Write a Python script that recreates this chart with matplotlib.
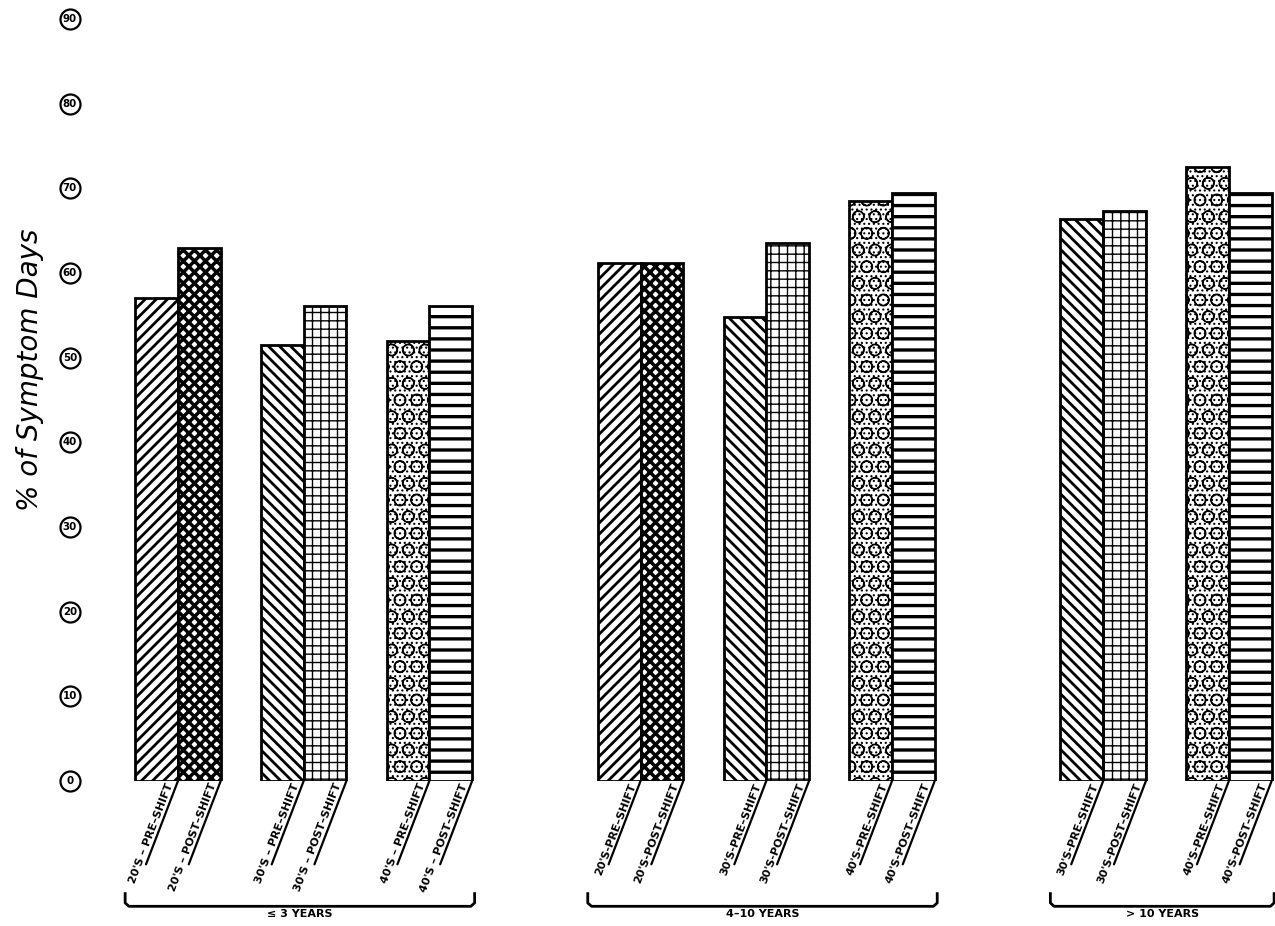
import matplotlib
matplotlib.use('Agg')
import matplotlib.pyplot as plt

# duration groups
groups = ['\u2264 3 YEARS', '4\u201310 YEARS', '> 10 YEARS']

# <= 3 years
ages_short = ["20'S", "30'S", "40'S"]
pre_short = [57.0, 51.5, 52.0]
post_short = [62.9, 56.1, 56.1]
# 4-10 years
ages_mid = ["20'S", "30'S", "40'S"]
pre_mid = [61.2, 54.8, 68.5]
post_mid = [61.2, 63.5, 69.5]
# > 10 years
ages_long = ["30'S", "40'S"]
pre_long = [66.4, 72.5]
post_long = [67.3, 69.4]

yticks = [0, 10, 20, 30, 40, 50, 60, 70, 80, 90]

# hatch + hatch linewidth per age/shift
styles = {
    ("20'S", 'PRE'): ('//////', 1.0),
    ("20'S", 'POST'): ('xxxxxx', 1.25),
    ("30'S", 'PRE'): ('\\' * 6, 1.0),
    ("30'S", 'POST'): ('++++', 0.5),
    ("40'S", 'PRE'): ('OO.......', 0.45),
    ("40'S", 'POST'): ('---', 1.2),
}

data = [(ages_short, pre_short, post_short),
        (ages_mid, pre_mid, post_mid),
        (ages_long, pre_long, post_long)]

group_step = 3.68
w = 0.34

fig = plt.figure(figsize=(6.375, 4.63), dpi=200)
ax = fig.add_axes([120 / 1275, 145 / 926, 1155 / 1275, 762 / 926])
ax.set_xlim(-0.461, 8.727)
ax.set_ylim(0, 90)
ax.axis('off')

for g, (ages, pre, post) in enumerate(data):
    centers = [g * group_step + i for i in range(len(ages))]
    for c, a, vpre, vpost in zip(centers, ages, pre, post):
        for shift, v, x in (('PRE', vpre, c - w / 2), ('POST', vpost, c + w / 2)):
            hatch, hlw = styles[(a, shift)]
            bars = ax.bar(x, v, width=w, color='white', edgecolor='black',
                          linewidth=1.0, hatch=hatch)
            for b in bars:
                if hasattr(b, 'set_hatch_linewidth'):
                    b.set_hatch_linewidth(hlw)
            xr = x + w / 2
            if g == 0:
                lab = a + ' \u2013 ' + shift + '\u2013SHIFT'
            else:
                lab = a + '-' + shift + '\u2013SHIFT'
            ax.annotate('', xy=(xr, 0), xytext=(-11.5, -30), textcoords='offset points',
                        arrowprops=dict(arrowstyle='-', lw=0.8, shrinkA=0, shrinkB=0),
                        annotation_clip=False)
            ax.annotate(lab, xy=(xr, 0), xytext=(-1.0, -1.6), textcoords='offset points',
                        rotation=69, rotation_mode='anchor', ha='right', va='bottom',
                        fontsize=4, fontweight='bold', annotation_clip=False)
    # bracket under the group
    x0 = centers[0] - 0.42
    x1 = centers[-1] + 0.36
    ax.plot([x0, x0, x0 + 0.03, x1 - 0.03, x1, x1],
            [-13.3, -14.4, -14.8, -14.8, -14.4, -13.3],
            color='black', lw=1.0, clip_on=False, solid_joinstyle='round')
    ax.text((x0 + x1) / 2, -15.1, groups[g], ha='center', va='top',
            fontsize=4, fontweight='bold')

# circled tick labels
ytr = ax.get_yaxis_transform()
for v in yticks:
    ax.plot(-0.0433, v, marker='o', markersize=7.2, mfc='white', mec='black',
            mew=0.8, transform=ytr, clip_on=False)
    ax.text(-0.0433, v, str(v), transform=ytr, ha='center', va='center',
            fontsize=3.7, fontweight='bold')

fig.text(30 / 1275, 1 - 370 / 926, '% of Symptom Days', rotation=90,
         fontsize=10, style='italic', ha='center', va='center')

fig.savefig('out.png', dpi=200)
